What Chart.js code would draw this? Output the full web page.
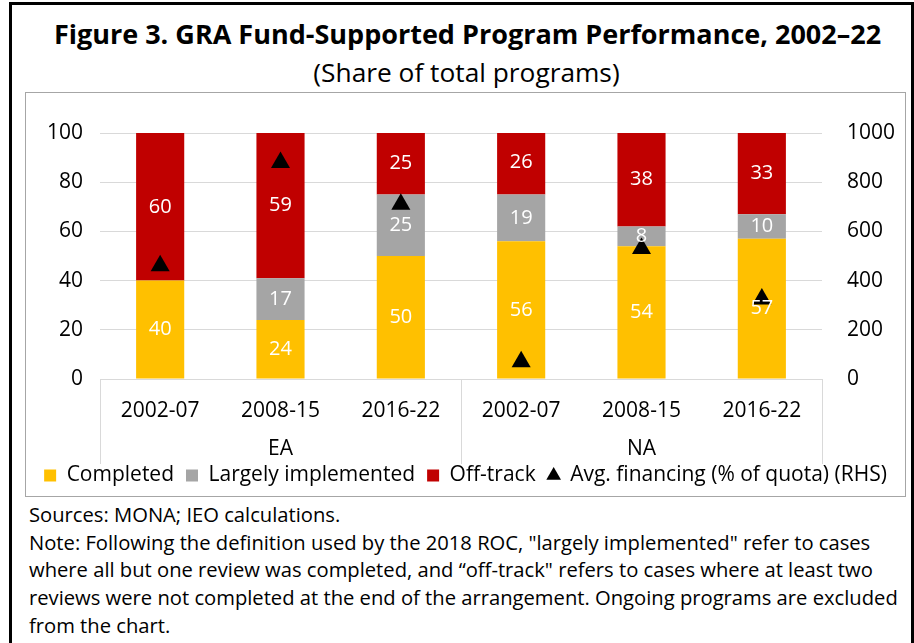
<!DOCTYPE html>
<html>
<head>
<meta charset="utf-8">
<script src="https://cdn.jsdelivr.net/npm/chart.js@4/dist/chart.umd.min.js"></script>
<style>
  body { margin: 0; background: #fff; font-family: "Open Sans", sans-serif; }
  #frame { position: absolute; left: 9px; top: 2px; width: 899px; height: 660px;
           border-left: 3px solid #000; border-top: 3px solid #000; border-right: 3px solid #000; }
  #title { position: absolute; left: 6px; width: 100%; top: 10px; text-align: center;
           font-weight: bold; font-size: 27px; color: #000; white-space: nowrap; }
  #subtitle { position: absolute; left: 5px; width: 100%; top: 49px; text-align: center;
              font-size: 26.3px; color: #000; }
  #box { position: absolute; left: 13px; top: 87px; width: 879px; height: 403px; border: 1px solid #a6a6a6; }
  #notes { position: absolute; left: 17px; top: 496px; width: 890px; font-size: 20.2px; line-height: 27.7px;
           color: #000; white-space: nowrap; }
</style>
</head>
<body>
<div id="frame">
  <div id="title">Figure 3. GRA Fund-Supported Program Performance, 2002–22</div>
  <div id="subtitle">(Share of total programs)</div>
  <div id="box"><canvas id="myChart" width="879" height="403"></canvas></div>
  <div id="notes">Sources: MONA; IEO calculations.<br>Note: Following the definition used by the 2018 ROC, "largely implemented" refer to cases<br>where all but one review was completed, and “off-track" refers to cases where at least two<br>reviews were not completed at the end of the arrangement. Ongoing programs are excluded<br>from the chart.</div>
</div>
<script>
// periods and groups
var Periodos = ["2002-07", "2008-15", "2016-22", "2002-07", "2008-15", "2016-22"]
var Grupos = ["EA", "NA"]

// share of total programs (%)
var Completed = [40, 24, 50, 56, 54, 57]
var LargelyImplemented = [0, 17, 25, 19, 8, 10]
var OffTrack = [60, 59, 25, 26, 38, 33]

// avg financing, % of quota (RHS)
var AvgFinancing = [460, 880, 710, 70, 530, 325]

var fonte = "'Open Sans', sans-serif"

// white numbers inside the bar segments
var rotulos = {
    id: 'rotulos',
    afterDatasetsDraw: function (chart) {
        var ctx = chart.ctx
        ctx.save()
        ctx.font = '20px ' + fonte
        ctx.fillStyle = '#ffffff'
        ctx.textAlign = 'center'
        ctx.textBaseline = 'middle'
        chart.data.datasets.forEach(function (ds, i) {
            if (ds.type == 'line') return
            chart.getDatasetMeta(i).data.forEach(function (el, j) {
                if (!ds.data[j]) return
                ctx.fillText(ds.data[j], el.x, (el.y + el.base) / 2)
            })
        })
        ctx.restore()
    }
}

// EA / NA group row under the period labels, with separators
var grupos = {
    id: 'grupos',
    afterDraw: function (chart) {
        var x = chart.scales.x
        var ctx = chart.ctx
        var passo = (x.right - x.left) / Grupos.length
        ctx.save()
        ctx.strokeStyle = '#d9d9d9'
        ctx.lineWidth = 1
        for (var i = 0; i <= Grupos.length; i++) {
            var px = Math.round(x.left + passo * i) + 0.5
            ctx.beginPath()
            ctx.moveTo(px, x.top)
            ctx.lineTo(px, x.top + 85)
            ctx.stroke()
        }
        ctx.font = '21px ' + fonte
        ctx.fillStyle = '#000'
        ctx.textAlign = 'center'
        ctx.textBaseline = 'middle'
        for (var i = 0; i < Grupos.length; i++) {
            ctx.fillText(Grupos[i], x.left + passo * (i + 0.5), x.top + 70)
        }
        ctx.restore()
    }
}

var ctx = document.getElementById('myChart')

var myChart = new Chart(ctx, {
    data: {
        labels: Periodos,
        datasets: [{
            type: 'bar',
            label: 'Completed',
            data: Completed,
            backgroundColor: '#ffc000',
            barPercentage: 0.4,
            categoryPercentage: 1,
            order: 2
        }, {
            type: 'bar',
            label: 'Largely implemented',
            data: LargelyImplemented,
            backgroundColor: '#a5a5a5',
            barPercentage: 0.4,
            categoryPercentage: 1,
            order: 2
        }, {
            type: 'bar',
            label: 'Off-track',
            data: OffTrack,
            backgroundColor: '#c00000',
            barPercentage: 0.4,
            categoryPercentage: 1,
            order: 2
        }, {
            type: 'line',
            label: 'Avg. financing (% of quota) (RHS)',
            data: AvgFinancing,
            yAxisID: 'y2',
            showLine: false,
            pointStyle: 'triangle',
            pointRadius: 11,
            pointBackgroundColor: '#000000',
            pointBorderColor: '#000000',
            pointBorderWidth: 0,
            backgroundColor: '#000000',
            borderColor: '#000000',
            order: 1
        }]
    },
    options: {
        responsive: false,
        animation: false,
        layout: { padding: { left: 0, right: 0, top: 40, bottom: 0 } },
        scales: {
            x: {
                stacked: true,
                grid: { display: false, drawTicks: false },
                border: { color: '#d9d9d9' },
                ticks: { color: '#000', font: { family: fonte, size: 21 }, padding: 19 },
                afterFit: function (s) { s.height = 74 }
            },
            y: {
                stacked: true,
                min: 0,
                max: 100,
                ticks: { stepSize: 20, color: '#000', font: { family: fonte, size: 21 }, padding: 17 },
                grid: { color: '#d9d9d9', drawTicks: false },
                border: { display: false },
                afterFit: function (s) { s.width = 74 }
            },
            y2: {
                position: 'right',
                min: 0,
                max: 1000,
                ticks: {
                    stepSize: 200, color: '#000', font: { family: fonte, size: 21 }, padding: 25,
                    callback: function (v) { return String(v) }
                },
                grid: { display: false, drawTicks: false },
                border: { display: false },
                afterFit: function (s) { s.width = 83 }
            }
        },
        plugins: {
            legend: {
                position: 'bottom',
                labels: {
                    usePointStyle: true,
                    boxWidth: 12,
                    boxHeight: 12,
                    padding: 12,
                    color: '#000',
                    font: { family: fonte, size: 21 },
                    generateLabels: function (chart) {
                        return chart.data.datasets.map(function (ds, i) {
                            return {
                                text: ds.label,
                                fillStyle: ds.type == 'line' ? '#000' : ds.backgroundColor,
                                strokeStyle: ds.type == 'line' ? '#000' : ds.backgroundColor,
                                lineWidth: 0,
                                pointStyle: ds.type == 'line' ? 'triangle' : 'rect',
                                datasetIndex: i,
                                fontColor: '#000'
                            }
                        })
                    }
                }
            },
            tooltip: { enabled: false }
        }
    },
    plugins: [rotulos, grupos]
})
</script>
</body>
</html>
